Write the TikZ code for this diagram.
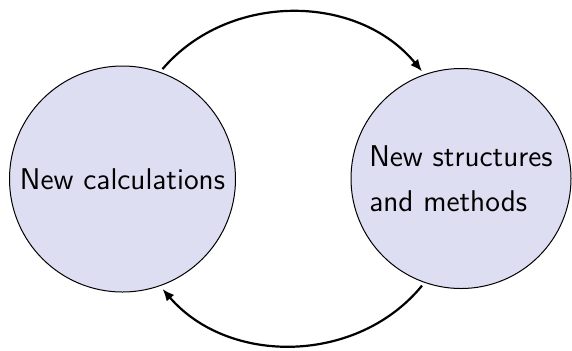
\documentclass[tikz,border=0pt]{standalone}
\usetikzlibrary{arrows.meta}
\definecolor{bubblefill}{RGB}{222,222,242}
\begin{document}
\begin{tikzpicture}[x=0.5pt,y=-0.5pt,
 bubble/.style={circle,draw=black,line width=0.5pt,fill=bubblefill,inner sep=0pt,outer sep=2pt,font=\sffamily\fontsize{15}{22.3}\selectfont},
 flow/.style={-{Latex[length=6pt,width=5pt]},line width=1.1pt}]
\useasboundingbox (0,0) rectangle (572,350);
\node[bubble,minimum size=113pt] (L) at (122.5,179) {New calculations};
\node[bubble,minimum size=110pt,align=left] (R) at (461,178.5) {New structures\\and methods};
\draw[flow] (L.70) to[bend left=50] (R.110);
\draw[flow] (R.250) to[bend left=50] (L.290);
\end{tikzpicture}
\end{document}
